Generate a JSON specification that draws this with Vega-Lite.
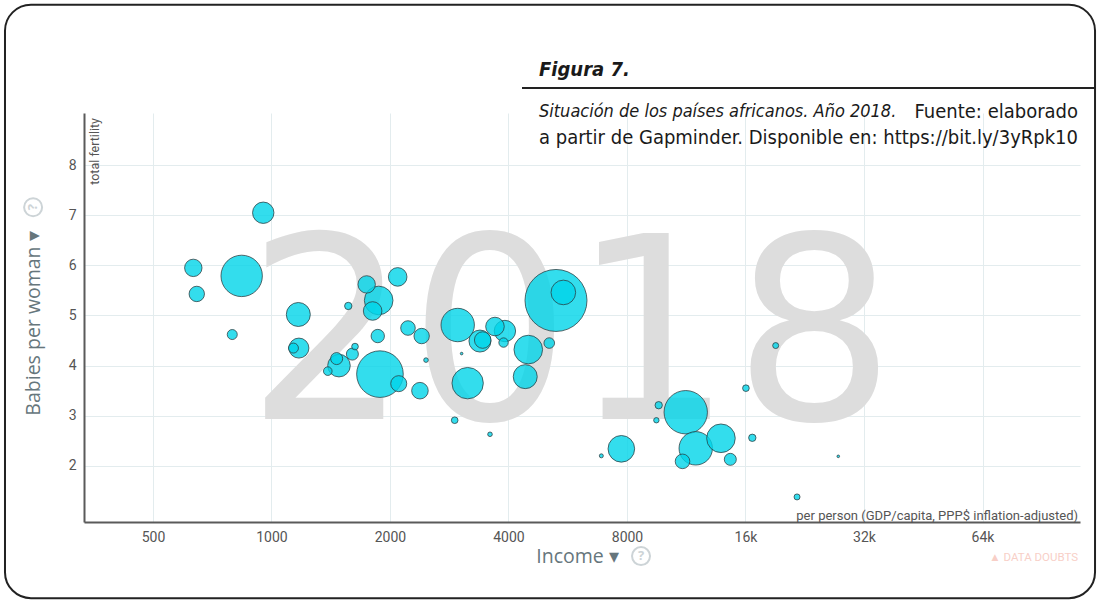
{
  "$schema": "https://vega.github.io/schema/vega-lite/v6.json",
  "width": 996,
  "height": 409,
  "autosize": "none",
  "padding": {"left": 84, "top": 113, "right": 19, "bottom": 79},
  "background": "white",
  "config": {
    "view": {"stroke": null},
    "axis": {
      "grid": true,
      "gridColor": "#e3ecee",
      "gridWidth": 1,
      "ticks": false,
      "domainColor": "#5a5a5a",
      "domainWidth": 2,
      "labelFont": "Roboto",
      "labelFontSize": 14,
      "labelColor": "#555555",
      "titleFont": "Open Sans",
      "titleFontSize": 19.5,
      "titleFontWeight": "normal",
      "titleColor": "#66767c"
    }
  },
  "datasets": {
    "countries": [
      {"income": 953, "fertility": 7.05, "pop": 22.8},
      {"income": 633, "fertility": 5.95, "pop": 15.1},
      {"income": 646, "fertility": 5.43, "pop": 11.8},
      {"income": 840, "fertility": 5.79, "pop": 85.4},
      {"income": 795, "fertility": 4.62, "pop": 5.0},
      {"income": 1170, "fertility": 5.02, "pop": 28.7},
      {"income": 1174, "fertility": 4.35, "pop": 19.9},
      {"income": 1137, "fertility": 4.35, "pop": 5.0},
      {"income": 1567, "fertility": 5.19, "pop": 2.7},
      {"income": 1745, "fertility": 5.62, "pop": 15.1},
      {"income": 1872, "fertility": 5.30, "pop": 40.8},
      {"income": 1807, "fertility": 5.09, "pop": 17.2},
      {"income": 2092, "fertility": 5.77, "pop": 17.2},
      {"income": 1862, "fertility": 4.59, "pop": 8.9},
      {"income": 2222, "fertility": 4.75, "pop": 10.6},
      {"income": 2407, "fertility": 4.59, "pop": 11.8},
      {"income": 1630, "fertility": 4.38, "pop": 2.2},
      {"income": 1605, "fertility": 4.23, "pop": 7.2},
      {"income": 1484, "fertility": 4.00, "pop": 25.4},
      {"income": 1464, "fertility": 4.14, "pop": 7.2},
      {"income": 1390, "fertility": 3.89, "pop": 3.7},
      {"income": 1886, "fertility": 3.83, "pop": 108.2},
      {"income": 2105, "fertility": 3.64, "pop": 12.8},
      {"income": 2383, "fertility": 3.50, "pop": 13.7},
      {"income": 2469, "fertility": 4.11, "pop": 1.05},
      {"income": 2972, "fertility": 4.81, "pop": 55.6},
      {"income": 3041, "fertility": 4.24, "pop": 0.34},
      {"income": 3385, "fertility": 4.49, "pop": 24.1},
      {"income": 3440, "fertility": 4.51, "pop": 13.7},
      {"income": 3696, "fertility": 4.78, "pop": 17.2},
      {"income": 3917, "fertility": 4.69, "pop": 22.8},
      {"income": 3886, "fertility": 4.46, "pop": 4.4},
      {"income": 4491, "fertility": 4.32, "pop": 40.8},
      {"income": 5077, "fertility": 4.45, "pop": 5.6},
      {"income": 5281, "fertility": 5.30, "pop": 191.5},
      {"income": 5513, "fertility": 5.46, "pop": 30.2},
      {"income": 3150, "fertility": 3.65, "pop": 49.1},
      {"income": 4412, "fertility": 3.78, "pop": 28.7},
      {"income": 2920, "fertility": 2.91, "pop": 2.2},
      {"income": 3590, "fertility": 2.63, "pop": 1.05},
      {"income": 19090, "fertility": 4.40, "pop": 1.8},
      {"income": 16040, "fertility": 3.55, "pop": 2.2},
      {"income": 9630, "fertility": 3.21, "pop": 2.7},
      {"income": 9500, "fertility": 2.91, "pop": 1.45},
      {"income": 11280, "fertility": 3.07, "pop": 93.8},
      {"income": 7740, "fertility": 2.34, "pop": 35.3},
      {"income": 6885, "fertility": 2.20, "pop": 0.8},
      {"income": 11960, "fertility": 2.35, "pop": 55.6},
      {"income": 13860, "fertility": 2.55, "pop": 40.8},
      {"income": 11070, "fertility": 2.09, "pop": 10.6},
      {"income": 14640, "fertility": 2.13, "pop": 7.2},
      {"income": 16650, "fertility": 2.56, "pop": 2.7},
      {"income": 27530, "fertility": 2.19, "pop": 0.34},
      {"income": 21630, "fertility": 1.38, "pop": 1.8}
    ],
    "one": [{}]
  },
  "layer": [
    {
      "data": {"name": "one"},
      "mark": {"type": "text", "text": "2018", "font": "DejaVu Sans", "fontSize": 255,
               "color": "#dddddd", "align": "center", "baseline": "alphabetic"},
      "encoding": {
        "x": {"datum": 5764, "type": "quantitative", "scale": {"type": "log", "domain": [334, 113200]}},
        "y": {"datum": 2.94, "type": "quantitative", "scale": {"domain": [0.88, 9.04], "nice": false, "zero": false}}
      }
    },
    {
      "data": {"name": "countries"},
      "mark": {"type": "circle", "fill": "#00d5e9", "fillOpacity": 0.8,
               "stroke": "#2b3a3d", "strokeWidth": 1, "strokeOpacity": 0.75},
      "encoding": {
        "x": {"field": "income", "type": "quantitative",
              "scale": {"type": "log", "domain": [334, 113200]},
              "axis": {"values": [500, 1000, 2000, 4000, 8000, 16000, 32000, 64000],
                       "labelExpr": "datum.value >= 16000 ? format(datum.value/1000, 'd') + 'k' : format(datum.value, 'd')",
                       "labelPadding": 8, "title": "Income ▾", "titlePadding": 3, "titleX": 493}},
        "y": {"field": "fertility", "type": "quantitative",
              "scale": {"domain": [0.88, 9.04], "nice": false, "zero": false},
              "axis": {"values": [2, 3, 4, 5, 6, 7, 8], "labelPadding": 8,
                       "title": "Babies per woman ▾", "titlePadding": 25, "titleY": 210}},
        "size": {"field": "pop", "type": "quantitative",
                 "scale": {"type": "linear", "domain": [0, 200], "range": [0, 4014], "zero": true},
                 "legend": null},
        "order": {"field": "pop", "type": "quantitative", "sort": "descending"}
      }
    },
    {
      "data": {"name": "one"},
      "mark": {"type": "point", "shape": "circle", "filled": false, "stroke": "#cdd4d7", "strokeWidth": 2, "size": 324, "opacity": 1},
      "encoding": {
        "x": {"datum": 248, "type": "quantitative", "scale": {"type": "log", "domain": [334, 113200]}},
        "y": {"datum": 7.16, "type": "quantitative", "scale": {"domain": [0.88, 9.04], "nice": false, "zero": false}}
      }
    },
    {
      "data": {"name": "one"},
      "mark": {"type": "text", "text": "?", "font": "Open Sans", "fontSize": 13, "fontWeight": "bold",
               "color": "#cdd4d7", "angle": 270, "align": "center", "baseline": "middle"},
      "encoding": {
        "x": {"datum": 248, "type": "quantitative", "scale": {"type": "log", "domain": [334, 113200]}},
        "y": {"datum": 7.16, "type": "quantitative", "scale": {"domain": [0.88, 9.04], "nice": false, "zero": false}}
      }
    },
    {
      "data": {"name": "one"},
      "mark": {"type": "point", "shape": "circle", "filled": false, "stroke": "#cdd4d7", "strokeWidth": 2, "size": 324, "opacity": 1},
      "encoding": {
        "x": {"datum": 8684, "type": "quantitative", "scale": {"type": "log", "domain": [334, 113200]}},
        "y": {"datum": 0.2, "type": "quantitative", "scale": {"domain": [0.88, 9.04], "nice": false, "zero": false}}
      }
    },
    {
      "data": {"name": "one"},
      "mark": {"type": "text", "text": "?", "font": "Open Sans", "fontSize": 13, "fontWeight": "bold",
               "color": "#cdd4d7", "align": "center", "baseline": "middle"},
      "encoding": {
        "x": {"datum": 8684, "type": "quantitative", "scale": {"type": "log", "domain": [334, 113200]}},
        "y": {"datum": 0.2, "type": "quantitative", "scale": {"domain": [0.88, 9.04], "nice": false, "zero": false}}
      }
    },
    {
      "data": {"name": "one"},
      "mark": {"type": "text", "text": "total fertility", "font": "Roboto", "fontSize": 12.5,
               "color": "#555555", "angle": 270, "align": "right", "baseline": "middle"},
      "encoding": {
        "x": {"datum": 356, "type": "quantitative", "scale": {"type": "log", "domain": [334, 113200]}},
        "y": {"datum": 8.94, "type": "quantitative", "scale": {"domain": [0.88, 9.04], "nice": false, "zero": false}}
      }
    },
    {
      "data": {"name": "one"},
      "mark": {"type": "text", "text": "per person (GDP/capita, PPP$ inflation-adjusted)", "font": "Roboto",
               "fontSize": 13, "color": "#555555", "align": "right", "baseline": "middle"},
      "encoding": {
        "x": {"datum": 111900, "type": "quantitative", "scale": {"type": "log", "domain": [334, 113200]}},
        "y": {"datum": 1.0, "type": "quantitative", "scale": {"domain": [0.88, 9.04], "nice": false, "zero": false}}
      }
    },
    {
      "data": {"name": "one"},
      "mark": {"type": "text", "text": "▲ DATA DOUBTS", "font": "Roboto", "fontSize": 11.5,
               "color": "#f8cfc7", "align": "right", "baseline": "middle"},
      "encoding": {
        "x": {"datum": 111900, "type": "quantitative", "scale": {"type": "log", "domain": [334, 113200]}},
        "y": {"datum": 0.16, "type": "quantitative", "scale": {"domain": [0.88, 9.04], "nice": false, "zero": false}}
      }
    },
    {
      "data": {"name": "one"},
      "mark": {"type": "text", "text": "Figura 7.", "font": "DejaVu Sans Condensed", "fontSize": 20,
               "fontStyle": "italic", "fontWeight": "bold", "color": "#1a1a1a", "align": "left", "baseline": "middle"},
      "encoding": {
        "x": {"datum": 4781, "type": "quantitative", "scale": {"type": "log", "domain": [334, 113200]}},
        "y": {"datum": 9.9, "type": "quantitative", "scale": {"domain": [0.88, 9.04], "nice": false, "zero": false}}
      }
    },
    {
      "data": {"name": "one"},
      "mark": {"type": "rule", "color": "#222222", "strokeWidth": 2},
      "encoding": {
        "x": {"datum": 4329, "type": "quantitative", "scale": {"type": "log", "domain": [334, 113200]}},
        "x2": {"datum": 123600},
        "y": {"datum": 9.54, "type": "quantitative", "scale": {"domain": [0.88, 9.04], "nice": false, "zero": false}}
      }
    },
    {
      "data": {"name": "one"},
      "mark": {"type": "text", "text": "Situación de los países africanos. Año 2018.", "font": "DejaVu Sans Condensed",
               "fontSize": 18, "fontStyle": "italic", "color": "#1a1a1a", "align": "left", "baseline": "middle"},
      "encoding": {
        "x": {"datum": 4781, "type": "quantitative", "scale": {"type": "log", "domain": [334, 113200]}},
        "y": {"datum": 9.06, "type": "quantitative", "scale": {"domain": [0.88, 9.04], "nice": false, "zero": false}}
      }
    },
    {
      "data": {"name": "one"},
      "mark": {"type": "text", "text": "Fuente: elaborado", "font": "DejaVu Sans Condensed",
               "fontSize": 20, "color": "#1a1a1a", "align": "right", "baseline": "middle"},
      "encoding": {
        "x": {"datum": 111900, "type": "quantitative", "scale": {"type": "log", "domain": [334, 113200]}},
        "y": {"datum": 9.06, "type": "quantitative", "scale": {"domain": [0.88, 9.04], "nice": false, "zero": false}}
      }
    },
    {
      "data": {"name": "one"},
      "mark": {"type": "text", "text": "a partir de Gapminder. Disponible en: https://bit.ly/3yRpk10", "font": "DejaVu Sans Condensed",
               "fontSize": 20, "color": "#1a1a1a", "align": "left", "baseline": "middle"},
      "encoding": {
        "x": {"datum": 4781, "type": "quantitative", "scale": {"type": "log", "domain": [334, 113200]}},
        "y": {"datum": 8.54, "type": "quantitative", "scale": {"domain": [0.88, 9.04], "nice": false, "zero": false}}
      }
    },
    {
      "data": {"name": "one"},
      "mark": {"type": "rect", "fill": "transparent", "stroke": "#222222", "strokeWidth": 2, "cornerRadius": 26},
      "encoding": {
        "x": {"datum": 210.4, "type": "quantitative", "scale": {"type": "log", "domain": [334, 113200]}},
        "x2": {"datum": 123600},
        "y": {"datum": 11.2, "type": "quantitative", "scale": {"domain": [0.88, 9.04], "nice": false, "zero": false}},
        "y2": {"datum": -0.64}
      }
    }
  ]
}
